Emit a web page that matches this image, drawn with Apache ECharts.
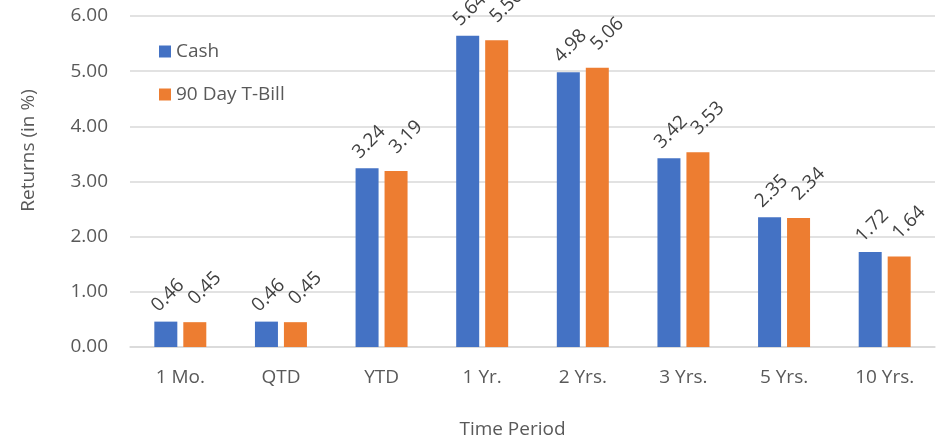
<!DOCTYPE html>
<html>
<head>
<meta charset="utf-8">
<script src="https://cdn.jsdelivr.net/npm/echarts@6/dist/echarts.min.js"></script>
<style>
  html, body { margin: 0; padding: 0; background: #fff; }
  #chart { width: 947px; height: 440px; }
</style>
</head>
<body>
<div id="chart"></div>
<script>
// Returns by time period
const periods = ['1 Mo.', 'QTD', 'YTD', '1 Yr.', '2 Yrs.', '3 Yrs.', '5 Yrs.', '10 Yrs.'];
const cashReturns = [0.46, 0.46, 3.24, 5.64, 4.98, 3.42, 2.35, 1.72];
const tbillReturns = [0.45, 0.45, 3.19, 5.56, 5.06, 3.53, 2.34, 1.64];
const seriesNames = ['Cash', '90 Day T-Bill'];
const yTicks = { min: 0, max: 6, step: 1 };

const FONT = 'Open Sans';
const FS = 19;
const TEXT = '#595959';
const GRID = '#D9D9D9';

const chart = echarts.init(document.getElementById('chart'), null, { renderer: 'canvas' });

function valueLabel(offsetX) {
  return {
    show: true,
    position: 'top',
    distance: 24,
    rotate: 45,
    align: 'center',
    verticalAlign: 'middle',
    offset: [offsetX, 0],
    color: '#404040',
    fontFamily: FONT,
    fontSize: FS,
    formatter: p => p.value.toFixed(2)
  };
}

chart.setOption({
  animation: false,
  textStyle: { fontFamily: FONT },
  grid: { left: 130, right: 12, top: 16, bottom: 93, containLabel: false, outerBoundsMode: 'none' },
  legend: {
    orient: 'vertical',
    left: 154,
    top: 37,
    itemWidth: 12,
    itemHeight: 12,
    itemGap: 24,
    icon: 'rect',
    textStyle: { color: TEXT, fontSize: FS, fontFamily: FONT },
    data: seriesNames
  },
  xAxis: {
    type: 'category',
    data: periods,
    name: 'Time Period',
    nameLocation: 'middle',
    nameGap: 73,
    nameTextStyle: { color: TEXT, fontSize: FS, fontFamily: FONT, padding: [0, 40, 0, 0] },
    axisLine: { lineStyle: { color: GRID, width: 1.5 } },
    axisTick: { show: false },
    axisLabel: { color: TEXT, fontSize: FS, fontFamily: FONT, margin: 21 }
  },
  yAxis: {
    type: 'value',
    min: yTicks.min,
    max: yTicks.max,
    interval: yTicks.step,
    name: 'Returns (in %)',
    nameLocation: 'middle',
    nameGap: 92,
    nameTextStyle: { color: TEXT, fontSize: FS, fontFamily: FONT, padding: [0, 0, 0, 62] },
    axisLine: { show: false },
    axisTick: { show: false },
    splitLine: { lineStyle: { color: GRID, width: 1.5 } },
    axisLabel: { color: TEXT, fontSize: FS, fontFamily: FONT, margin: 22, formatter: v => v.toFixed(2) }
  },
  series: [
    {
      name: seriesNames[0],
      type: 'bar',
      data: cashReturns,
      barWidth: 23,
      barGap: '26%',
      itemStyle: { color: '#4472C4' },
      label: valueLabel(3)
    },
    {
      name: seriesNames[1],
      type: 'bar',
      data: tbillReturns,
      barWidth: 23,
      itemStyle: { color: '#ED7D31' },
      label: valueLabel(14)
    }
  ]
});
</script>
</body>
</html>
